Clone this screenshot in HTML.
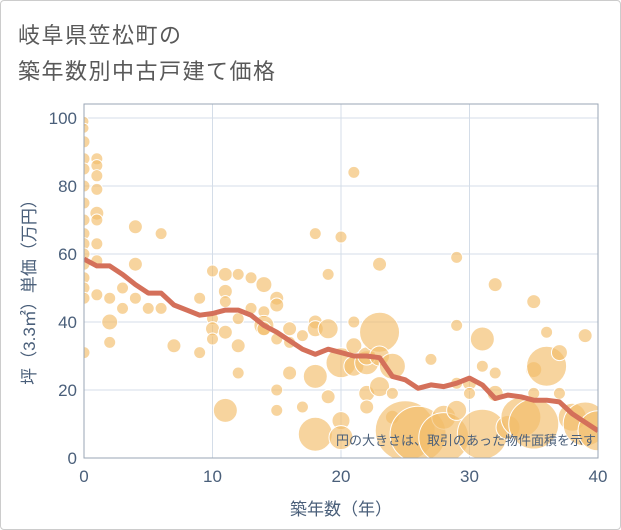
<!DOCTYPE html>
<html><head><meta charset="utf-8"><style>
body{margin:0;background:#fff;}
#card{position:absolute;left:0;top:0;width:619px;height:528px;border:1px solid #ccc;border-radius:4px;background:#fff;overflow:hidden;}
.t{position:absolute;left:17px;font:22px "Liberation Sans","Noto Sans CJK JP",sans-serif;color:#595959;letter-spacing:1.5px;}
</style></head><body>
<div id="card">
<div class="t" style="top:17px">岐阜県笠松町の</div>
<div class="t" style="top:53px">築年数別中古戸建て価格</div>
<svg id="ch" width="621" height="530" style="position:absolute;left:0;top:0"></svg>
</div>
<script>
const years=[0,1,2,3,4,5,6,7,8,9,10,11,12,13,14,15,16,17,18,19,20,21,22,23,24,25,26,27,28,29,30,31,32,33,34,35,36,37,38,39,40];
const avgPrice=[58.5,56.5,56.5,54,51,48.5,48.5,45,43.5,42,42.5,43.5,43.5,42,39,37,34.5,32,30.5,32,31,30,30,29.5,24,23,20.5,21.5,21,22,23.5,21.5,17.5,18.5,18,17,17,16.5,13,10.5,8];
const bubbleAge=[0,0,0,0,0,0,0,0,0,0,0,0,0,0,0,0,1,1,1,1,1,1,1,1,1,2,2,2,3,3,4,4,4,5,6,6,7,9,9,10,10,10,10,11,11,11,11,11,12,12,12,12,13,13,14,14,14,14,15,15,15,15,15,16,16,16,17,17,18,18,18,18,18,19,19,19,20,20,20,20,21,21,21,21,22,22,22,22,23,23,23,23,24,24,24,25,26,27,28,28,29,29,29,29,30,30,31,31,31,32,32,32,33,34,35,35,35,35,36,36,37,37,38,39,39,40];
const bubblePrice=[99,97,93,88,85,80,75,70,66,63,60,57,53,50,47,31,88,86,83,79,72,70,63,58,48,47,40,34,50,44,68,57,47,44,66,44,33,47,31,55,41,38,35,54,49,46,37,14,54,41,33,25,53,44,51,43,39,38,47,45,35,20,14,38,25,34,36,15,66,40,38,24,7,54,38,18,65,28,11,6,84,40,33,27,28,30,19,15,57,37,30,21,27,19,12,8,7,29,12,6,59,39,22,14,22,19,35,27,7,51,25,19,9,12,46,26,19,10,37,27,31,19,12,36,10,8];
const bubbleArea=[25,25,36,36,36,36,36,36,36,36,36,36,36,36,36,36,36,36,36,36,49,36,36,36,36,36,64,36,36,36,49,49,36,36,36,36,49,36,36,36,36,49,36,49,49,36,49,144,36,36,49,36,36,36,64,36,100,49,49,49,36,36,36,49,49,36,36,36,36,49,64,144,289,36,100,49,36,225,81,144,36,36,64,100,144,81,64,49,49,400,100,100,169,36,49,900,784,36,144,625,36,36,36,100,49,36,144,36,625,49,36,64,144,400,49,64,36,625,36,400,64,36,196,49,484,400];
const yTicks=[0,20,40,60,80,100];
const xTicks=[0,10,20,30,40];
const NS='http://www.w3.org/2000/svg';
const svg=document.getElementById('ch');
const L=83,R=597,T=103,B=457;
const xs=v=>L+(v/40)*(R-L);
const ys=v=>B-(v/100)*(B-117);
function mk(tag,at){const e=document.createElementNS(NS,tag);for(const k in at)e.setAttribute(k,at[k]);svg.appendChild(e);return e;}
const clip=mk('clipPath',{id:'pc'});
const cr=document.createElementNS(NS,'rect');cr.setAttribute('x',L);cr.setAttribute('y',T);cr.setAttribute('width',R-L);cr.setAttribute('height',B-T);clip.appendChild(cr);
yTicks.forEach(v=>{
 const g=mk('line',{x1:L,x2:R,y1:ys(v),y2:ys(v),stroke:'#d4dde8','stroke-width':1});
 
 
 const t=mk('text',{x:L-7,y:ys(v)+6,'text-anchor':'end','font-size':17,fill:'#4a5f7a','font-family':'Liberation Sans, sans-serif'});
 t.textContent=v;
 
 
});
xTicks.forEach(v=>{
 const g=mk('line',{x1:xs(v),x2:xs(v),y1:T,y2:B,stroke:'#d4dde8','stroke-width':1});
 
 
 const t=mk('text',{x:xs(v),y:B+24,'text-anchor':'middle','font-size':17,fill:'#4a5f7a','font-family':'Liberation Sans, sans-serif'});
 t.textContent=v;
 
 
});
const bg=mk('g',{'clip-path':'url(#pc)'});


bubbleAge.forEach((a,i)=>{
 const c=document.createElementNS(NS,'circle');
 c.setAttribute('cx',xs(a));c.setAttribute('cy',ys(bubblePrice[i]));c.setAttribute('r',Math.sqrt(bubbleArea[i]));
 c.setAttribute('fill','#f2bd6a');c.setAttribute('fill-opacity','0.65');c.setAttribute('stroke','#fff');c.setAttribute('stroke-width','1');
 
 
 bg.appendChild(c);
});
const ln=mk('polyline',{points:years.map((y,i)=>xs(y)+','+ys(avgPrice[i])).join(' '),fill:'none',stroke:'#d4705a','stroke-width':5,'stroke-linejoin':'round','clip-path':'url(#pc)'});


const fr=mk('rect',{x:L,y:T,width:R-L,height:B-T,fill:'none',stroke:'#9aa6b4','stroke-width':1});


const note=mk('text',{x:R-2,y:444,'text-anchor':'end','font-size':13,fill:'#4a5f7a','font-family':'Liberation Sans, Noto Sans CJK JP, sans-serif'});
note.textContent='円の大きさは、取引のあった物件面積を示す';


const xt=mk('text',{x:(L+R)/2,y:514,'text-anchor':'middle','font-size':17,fill:'#4a5f7a','font-family':'Liberation Sans, Noto Sans CJK JP, sans-serif'});
xt.textContent='築年数（年）';


const yt=mk('text',{x:0,y:0,'text-anchor':'middle','font-size':17,fill:'#4a5f7a','font-family':'Liberation Sans, Noto Sans CJK JP, sans-serif',transform:'translate(34,287) rotate(-90)'});
yt.textContent='坪（3.3㎡）単価（万円）';


</script>
</body></html>
